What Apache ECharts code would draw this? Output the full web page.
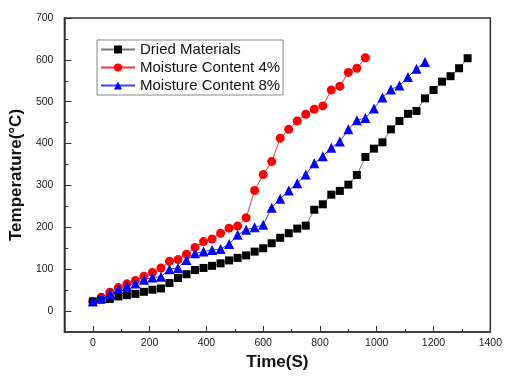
<!DOCTYPE html>
<html>
<head>
<meta charset="utf-8">
<script src="https://cdn.jsdelivr.net/npm/echarts@6/dist/echarts.min.js"></script>
<style>
  html, body { margin: 0; padding: 0; background: #fff; }
  #chart { width: 505px; height: 381px; }
</style>
</head>
<body>
<div id="chart"></div>
<script>
var chartDom = document.getElementById('chart');
var myChart = echarts.init(chartDom);

// time (s), sampled every 30 s
var timeSec = [0, 30, 60, 90, 120, 150, 180, 210, 240, 270, 300, 330, 360, 390, 420,
  450, 480, 510, 540, 570, 600, 630, 660, 690, 720, 750, 780, 810, 840, 870,
  900, 930, 960, 990, 1020, 1050, 1080, 1110, 1140, 1170, 1200, 1230, 1260, 1290, 1320];

var driedTemp = [23, 27, 29, 35, 38, 41, 46, 51, 54, 67, 79, 88, 98, 103, 108,
  114, 121, 127, 133, 142, 150, 162, 175, 186, 197, 204, 242, 255, 278, 287,
  302, 325, 368, 388, 403, 434, 454, 471, 478, 508, 528, 548, 561, 580, 604];

var moist4Temp = [23, 33, 45, 56, 65, 73, 83, 92, 103, 119, 123, 136, 152, 166, 172,
  186, 198, 203, 223, 288, 326, 357, 413, 434, 454, 470, 482, 490, 528, 537,
  570, 580, 605];

var moist8Temp = [23, 31, 41, 53, 60, 66, 75, 80, 82, 100, 103, 122, 138, 142, 146,
  148, 160, 182, 194, 200, 206, 247, 268, 288, 305, 326, 353, 370, 390, 405,
  434, 456, 461, 484, 510, 529, 539, 559, 579, 595];

var xLabels = [0, 200, 400, 600, 800, 1000, 1200, 1400];
var xMinor = [100, 300, 500, 700, 900, 1100, 1300];
var yLabels = [0, 100, 200, 300, 400, 500, 600, 700];
var yMinor = [50, 150, 250, 350, 450, 550, 650];

function pairs(vals) {
  return vals.map(function (v, i) { return [timeSec[i], v]; });
}
function plain(v) { return String(v); }

var axisColor = '#333';
var font = 'Liberation Sans, Arial';

var option = {
  backgroundColor: '#fff',
  animation: false,
  grid: {
    left: 64, right: 14, top: 18, bottom: 49,
    show: true, borderColor: axisColor, borderWidth: 1.5
  },
  legend: {
    orient: 'vertical',
    left: 97, top: 40,
    padding: [2, 3, 2, 3],
    itemGap: 3,
    itemWidth: 34,
    itemHeight: 10,
    borderColor: '#888',
    borderWidth: 1,
    textStyle: { fontFamily: font, fontSize: 15, color: '#111' },
    data: ['Dried Materials', 'Moisture Content 4%', 'Moisture Content 8%']
  },
  xAxis: [{
    type: 'value',
    min: -100, max: 1400,
    position: 'bottom',
    name: 'Time(S)',
    nameLocation: 'middle',
    nameGap: 22,
    nameTextStyle: { fontFamily: font, fontSize: 17, fontWeight: 'bold', color: '#111' },
    axisLine: { onZero: false, lineStyle: { color: axisColor, width: 1.5 } },
    axisTick: { inside: true, length: 6, customValues: xLabels, lineStyle: { color: axisColor } },
    axisLabel: { customValues: xLabels, formatter: plain, margin: 6, fontFamily: font, fontSize: 10.5, color: '#222' },
    splitLine: { show: false }
  }, {
    type: 'value',
    min: -100, max: 1400,
    position: 'bottom',
    gridIndex: 0,
    axisLine: { show: false, onZero: false },
    axisTick: { inside: true, length: 3, customValues: xMinor, lineStyle: { color: axisColor } },
    axisLabel: { show: false },
    splitLine: { show: false }
  }],
  yAxis: [{
    type: 'value',
    min: -50, max: 700,
    position: 'left',
    name: 'Temperature(°C)',
    nameLocation: 'middle',
    nameGap: 33,
    nameTextStyle: { fontFamily: font, fontSize: 17, fontWeight: 'bold', color: '#111' },
    axisLine: { onZero: false, lineStyle: { color: axisColor, width: 1.5 } },
    axisTick: { inside: true, length: 7, customValues: yLabels, lineStyle: { color: axisColor } },
    axisLabel: { customValues: yLabels, formatter: plain, margin: 11, fontFamily: font, fontSize: 10.5, color: '#222' },
    splitLine: { show: false }
  }, {
    type: 'value',
    min: -50, max: 700,
    position: 'left',
    gridIndex: 0,
    axisLine: { show: false, onZero: false },
    axisTick: { inside: true, length: 4, customValues: yMinor, lineStyle: { color: axisColor } },
    axisLabel: { show: false },
    splitLine: { show: false }
  }],
  series: [
    {
      name: 'Dried Materials',
      type: 'line',
      data: pairs(driedTemp),
      symbol: 'rect',
      symbolSize: 8,
      itemStyle: { color: '#000' },
      lineStyle: { color: '#777', width: 1 },
      z: 3
    },
    {
      name: 'Moisture Content 4%',
      type: 'line',
      data: pairs(moist4Temp),
      symbol: 'circle',
      symbolSize: 9,
      itemStyle: { color: '#ff0000' },
      lineStyle: { color: '#ff3030', width: 1 },
      z: 2
    },
    {
      name: 'Moisture Content 8%',
      type: 'line',
      data: pairs(moist8Temp),
      symbol: 'triangle',
      symbolSize: 10,
      itemStyle: { color: '#0000ff' },
      lineStyle: { color: '#4040ff', width: 1 },
      z: 4
    }
  ]
};

myChart.setOption(option);
</script>
</body>
</html>
